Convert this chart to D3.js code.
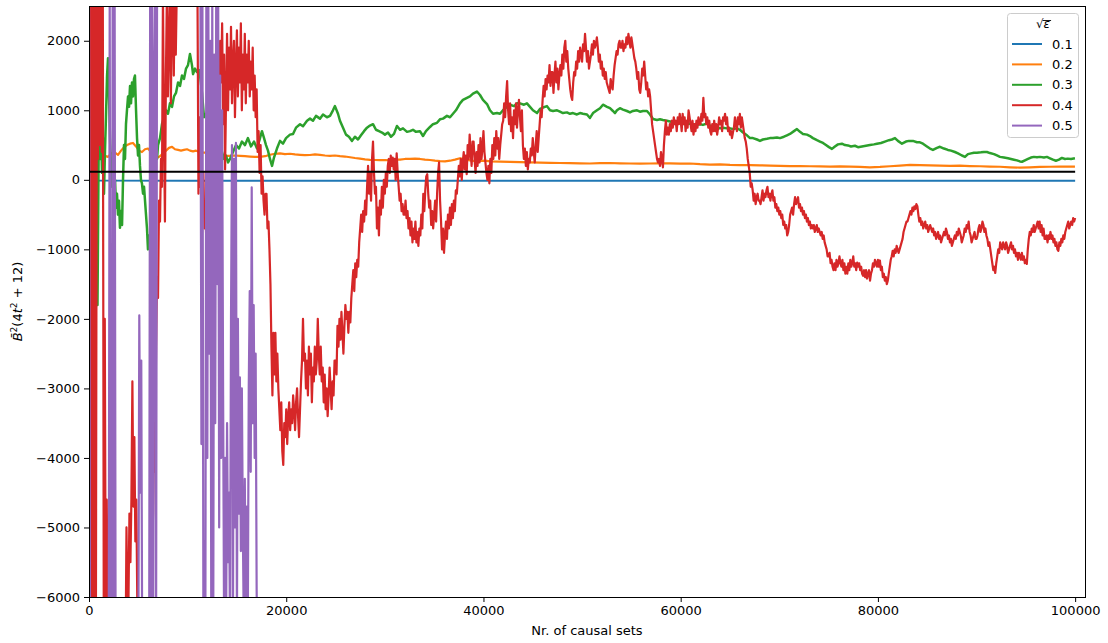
<!DOCTYPE html>
<html>
<head>
<meta charset="utf-8">
<script src="https://cdn.jsdelivr.net/npm/d3@7"></script>
<style>
  body { margin: 0; background: #fff; }
  text { font-family: "DejaVu Sans", sans-serif; fill: #000; }
</style>
</head>
<body>
<svg id="chart" width="1108" height="643"></svg>
<script>
// ---- data -------------------------------------------------------------
const xTicks = [0, 20000, 40000, 60000, 80000, 100000];
const yTicks = [-6000, -5000, -4000, -3000, -2000, -1000, 0, 1000, 2000];
const seriesLabels = ["0.1", "0.2", "0.3", "0.4", "0.5"];
const legendTitle = "\u221A\u03B5";

// horizontal reference level
const refLevel = 115;

// sqrt(eps) = 0.1 : [causal sets, value]
const eps01 = [[0, -5], [900, -10], [10000, -12], [30000, -14], [50000, -15],
  [70000, -15], [90000, -15], [100000, -15]];

// sqrt(eps) = 0.2 : [causal sets, value]
const eps02 = [[200, 900], [410, 420], [610, 500], [910, 570], [1120, 430], [1320, 350],
  [1620, 345], [1930, 330], [2230, 380], [2640, 390], [2940, 360], [3250, 420], [3550, 470],
  [3850, 500], [4160, 520], [4460, 530], [4770, 480], [5070, 420], [5370, 400], [5680, 440],
  [5980, 450], [6290, 400], [6590, 340], [6900, 315], [7200, 340], [7500, 380], [7810, 420],
  [8110, 460], [8420, 475], [8720, 440], [9030, 430], [9330, 420], [9630, 430], [9940, 440],
  [10240, 420], [10550, 410], [10850, 420], [11150, 400], [11460, 390], [11860, 390],
  [12270, 380], [12780, 370], [13280, 350], [13790, 345], [14300, 345], [14800, 350],
  [15310, 345], [15820, 340], [16330, 335], [16830, 330], [17340, 330], [17850, 340],
  [18350, 360], [18860, 375], [19370, 380], [19870, 370], [20380, 375], [20890, 365],
  [21400, 360], [21900, 355], [22410, 357], [22920, 365], [23420, 360], [23930, 350],
  [24440, 345], [24940, 350], [25450, 340], [25960, 335], [26470, 325], [26970, 314],
  [27480, 305], [27990, 295], [28490, 288], [29000, 285], [29510, 282], [30010, 285],
  [30520, 280], [31030, 290], [31540, 290], [32040, 300], [32550, 300], [33060, 305],
  [33560, 300], [34070, 290], [34580, 285], [35080, 275], [35590, 268], [36100, 265],
  [36610, 275], [37110, 290], [37620, 310], [38130, 295], [38630, 280], [39140, 270],
  [39650, 272], [40150, 275], [40660, 265], [41680, 262], [42690, 258], [43700, 255],
  [44720, 250], [45730, 248], [46750, 245], [47760, 242], [48770, 240], [49790, 238],
  [50800, 235], [51820, 240], [52830, 242], [53840, 238], [54860, 235], [55870, 232],
  [56890, 235], [57900, 238], [58910, 236], [59930, 232], [60940, 235], [61960, 225],
  [62970, 220], [63980, 222], [65000, 214], [66010, 210], [67030, 212], [68040, 208],
  [69050, 205], [70070, 200], [71080, 198], [72100, 197], [73110, 195], [74120, 193],
  [75140, 190], [76150, 192], [77170, 190], [78180, 185], [79190, 180], [80210, 185],
  [81220, 195], [82240, 205], [83250, 215], [84260, 212], [85280, 208], [86290, 205],
  [87310, 200], [88320, 203], [89330, 198], [90350, 195], [91360, 190], [92380, 188],
  [93390, 180], [94400, 175], [95420, 180], [96430, 185], [97450, 188], [98460, 190],
  [99980, 190]];

// sqrt(eps) = 0.3 : [causal sets, value]
const eps03 = [[100, 2700], [250, -3000], [410, 2700], [560, -800], [710, 2700], [860, -1800],
  [1010, 1000], [1120, 300], [1220, 700], [1320, 100], [1420, 600], [1520, -200], [1620, 400],
  [1720, 900], [1830, 1500], [1930, 1750], [2030, 1200], [2130, 600], [2230, 200], [2330, -100],
  [2430, 300], [2540, -300], [2640, 0], [2740, -400], [2840, -200], [2940, -500], [3040, -300],
  [3140, -690], [3250, -450], [3350, -650], [3450, 0], [3550, 500], [3650, 300], [3750, 800],
  [3850, 1000], [3960, 1200], [4060, 1050], [4160, 1350], [4260, 1100], [4360, 1400],
  [4460, 1200], [4560, 1450], [4660, 1500], [4770, 1000], [4870, 600], [4970, 350], [5070, 500],
  [5170, 200], [5270, 0], [5370, -50], [5480, -200], [5580, -100], [5680, -300], [5780, -500],
  [5880, -700], [5980, -1000], [6080, -800], [6190, -950], [6290, -600], [6390, -700],
  [6490, -300], [6590, 0], [6690, 200], [6790, 400], [6900, 300], [7000, 500], [7200, 600],
  [7400, 800], [7610, 900], [7810, 1000], [8010, 950], [8210, 1100], [8420, 1050], [8620, 1200],
  [8820, 1250], [9030, 1400], [9230, 1350], [9430, 1500], [9630, 1450], [9840, 1600],
  [10040, 1650], [10240, 1810], [10440, 1650], [10550, 1520], [10750, 1600], [10950, 1550],
  [11150, 1580], [11260, 1500], [11460, 1250], [11660, 900], [11860, 950], [12070, 850],
  [12270, 1000], [12470, 900], [12680, 1050], [12880, 900], [13080, 650], [13280, 450],
  [13490, 400], [13690, 300], [13890, 350], [14100, 250], [14300, 300], [14600, 400],
  [14910, 500], [15210, 450], [15510, 550], [15820, 500], [16120, 600], [16430, 480],
  [16730, 550], [17040, 450], [17340, 600], [17540, 700], [17750, 600], [17950, 500],
  [18150, 420], [18350, 300], [18560, 200], [18760, 320], [19060, 450], [19370, 560],
  [19670, 520], [19980, 600], [20380, 650], [20690, 660], [20990, 750], [21400, 800],
  [21700, 770], [22110, 850], [22410, 880], [22710, 850], [23020, 920], [23420, 880],
  [23730, 940], [24130, 900], [24440, 920], [24740, 1000], [24940, 1060], [25250, 950],
  [25450, 850], [25760, 750], [26060, 650], [26360, 620], [26670, 560], [26970, 620],
  [27280, 580], [27580, 640], [27890, 700], [28190, 750], [28490, 780], [28800, 800],
  [29100, 720], [29410, 700], [29710, 680], [30010, 650], [30320, 680], [30620, 620],
  [30930, 660], [31230, 775], [31540, 720], [31840, 740], [32250, 690], [32550, 700],
  [32850, 720], [33160, 690], [33560, 700], [33870, 630], [34170, 700], [34580, 760],
  [34880, 800], [35290, 820], [35590, 870], [35900, 880], [36300, 920], [36610, 900],
  [36910, 950], [37210, 1000], [37620, 1100], [37920, 1150], [38330, 1180], [38630, 1200],
  [38940, 1240], [39340, 1270], [39650, 1220], [39950, 1150], [40360, 1090], [40660, 1000],
  [40970, 950], [41370, 960], [41680, 950], [41980, 1000], [42390, 1050], [42690, 1080],
  [43100, 1060], [43400, 1100], [43700, 1100], [44110, 1080], [44410, 1100], [44720, 1050],
  [45020, 1000], [45430, 960], [45730, 1020], [46040, 1040], [46440, 1060], [46750, 1000],
  [47050, 990], [47460, 1000], [47760, 980], [48060, 960], [48470, 970], [48770, 950],
  [49080, 960], [49480, 940], [49790, 960], [50090, 950], [50500, 940], [50800, 890],
  [51110, 960], [51510, 1000], [51820, 1030], [52120, 1080], [52530, 1050], [52830, 1030],
  [53130, 990], [53340, 960], [53540, 1000], [53840, 1030], [54150, 1010], [54550, 990],
  [54860, 970], [55160, 990], [55570, 1000], [55870, 980], [56180, 990], [56580, 990],
  [56890, 940], [57190, 875], [57600, 860], [57900, 870], [58200, 860], [58610, 850],
  [58910, 840], [59220, 830], [59620, 820], [59930, 810], [60230, 820], [60640, 800],
  [60940, 810], [61250, 800], [61650, 790], [61960, 800], [62260, 790], [62670, 810],
  [62970, 780], [63270, 760], [63680, 740], [63980, 740], [64290, 750], [64690, 740],
  [65000, 740], [65300, 730], [65710, 740], [66010, 720], [66320, 680], [66720, 640],
  [67030, 600], [67330, 600], [67740, 580], [68040, 560], [68340, 580], [68750, 590],
  [69050, 600], [69360, 600], [69760, 610], [70070, 600], [70470, 620], [70780, 640],
  [71080, 660], [71490, 700], [71790, 730], [72100, 690], [72400, 660], [72810, 650],
  [73110, 630], [73410, 600], [73820, 570], [74120, 550], [74430, 530], [74730, 500],
  [75040, 470], [75340, 445], [75640, 480], [75950, 510], [76350, 520], [76660, 500],
  [76960, 495], [77270, 480], [77670, 490], [77980, 470], [78380, 480], [78790, 490],
  [79190, 500], [79600, 510], [79900, 520], [80310, 530], [80710, 550], [81120, 570],
  [81420, 580], [81730, 600], [82030, 560], [82440, 520], [82840, 550], [83150, 560],
  [83550, 560], [83960, 540], [84260, 540], [84570, 520], [84970, 480], [85280, 450],
  [85580, 430], [85990, 460], [86290, 475], [86700, 450], [87100, 430], [87410, 420],
  [87810, 400], [88120, 380], [88520, 350], [88830, 330], [89130, 370], [89440, 380],
  [89740, 390], [90040, 390], [90450, 395], [90750, 400], [91060, 400], [91360, 385],
  [91770, 370], [92070, 350], [92380, 330], [92780, 320], [93190, 310], [93490, 300],
  [93800, 290], [94100, 280], [94400, 265], [94610, 260], [94910, 280], [95220, 300],
  [95520, 320], [95820, 330], [96130, 325], [96430, 330], [96840, 320], [97140, 330],
  [97450, 310], [97750, 290], [98050, 275], [98360, 290], [98660, 315], [98970, 300],
  [99270, 305], [99580, 300], [99980, 310]];

// sqrt(eps) = 0.4 and 0.5 are stored as one value every sampleStep causal sets
const sampleStep = 100;

const eps04 = [
  2700, -6500, 2700, -6500, 2700, -6500, 2700, -6500, 2700, 300,
  2700, 500, 2700, 400, 2700, -6500, -2000, -6500, -4600, -6500,
  -7000, -7000, -7000, -7000, -7000, -7000, -7000, -7000, -7000, -7000,
  -7000, -7000, -7000, -7000, -7000, -7000, -7000, -7000, -5000, -6100,
  -6100, -4800, -5500, -4600, -2900, -4700, -3700, -5200, -4600, -6100,
  -7000, -7000, -7000, -7000, -7000, -7000, -7000, -7000, -7000, -7000,
  -7000, -7000, -7000, -7000, -5300, -4800, -3500, -4200, -2400, -1400,
  -1700, -300, -600, 300, -100, 2700, 800, -600, 1500, 2700,
  1200, 2000, 2700, 1100, 2400, 2700, 1500, 2700, 1800, 2700,
  3000, 3000, 3000, 3000, 3000, 3000, 3000, 3000, 3000, 3000,
  3000, 3000, 3000, 3000, 3000, 3000, 3000, 3000, 3000, 2700,
  2700, -200, 900, -100, 300, -300, 100, -700, -400, -900,
  -600, -1000, -500, -800, -300, -600, 100, -200, 500, 300,
  1000, 1600, 1200, 2000, 1400, 2250, 800, 1800, 150, 1200,
  2100, 1000, 1900, 1300, 2200, 1100, 1700, 2000, 900, 1600,
  2150, 1200, 1900, 1400, 2250, 1000, 1800, 1300, 2100, 1100,
  1800, 1400, 2000, 1200, 1700, 1300, 1900, 1000, 1500, 900,
  1300, 400, 700, 100, 500, -200, 50, -300, -500, -200,
  -200, -700, -600, -1000, -1500, -2400, -3100, -2200, -2800, -2200,
  -2900, -2500, -3000, -3300, -3600, -3200, -3900, -4100, -3500, -3700,
  -3300, -3800, -3400, -3200, -3600, -3300, -3500, -3100, -3300, -3600,
  -3200, -3000, -3400, -3700, -3300, -2900, -2600, -2000, -2600, -2500,
  -3000, -2600, -3100, -2400, -2800, -2500, -3200, -2700, -2900, -2400,
  -2800, -2600, -2000, -2500, -2800, -2400, -2900, -2700, -3200, -2800,
  -3300, -3000, -3400, -3100, -2700, -3000, -3300, -2900, -3100, -2600,
  -2600, -2800, -2100, -2400, -2000, -2300, -1900, -2200, -2500, -2100,
  -1800, -2000, -1900, -2200, -1900, -2050, -1700, -1500, -1300, -1600,
  -1200, -1400, -1150, -1250, -900, -700, -500, -750, -450, -600,
  -300, -500, -100, 200, -200, 100, -300, 300, 550, 100,
  -200, -100, -700, -400, -800, -300, -500, -100, -400, 0,
  -200, 100, -100, 200, 300, 100, 350, 200, 320, 150,
  300, 0, 380, 100, -100, -300, -200, -450, -350, -500,
  -500, -300, -550, -450, -700, -550, -800, -600, -900, -700,
  -850, -600, -900, -750, -950, -700, -800, -500, -700, -200,
  -450, -150, 50, 80, -200, -400, -300, -650, -450, -700,
  -500, -300, -600, -200, 100, 250, -300, -600, -1000, -700,
  -1050, -800, -600, -850, -500, -700, -400, -650, -350, -550,
  -300, -450, -150, -200, 0, 200, 50, 300, 0, 250,
  400, 150, 350, 80, 500, 300, 650, 400, 200, 550,
  550, 300, 100, 400, 200, 500, 250, 600, 300, 450,
  700, 400, 250, 100, 0, 200, -50, 300, 100, 500,
  300, 600, 350, 700, 450, 600, 300, 500, 650, 800,
  850, 1100, 900, 1200, 1420, 1000, 800, 1100, 700, 900,
  600, 1000, 800, 1100, 750, 1000, 1150, 900, 700, 1000,
  500, 300, 450, 200, 400, 150, 300, 250, 450, 350,
  600, 400, 250, 500, 700, 400, 600, 800, 1000, 900,
  1150, 1350, 1200, 1450, 1300, 1500, 1400, 1650, 1350, 1550,
  1550, 1250, 1500, 1700, 1400, 1600, 1300, 1500, 1650, 1500,
  1800, 1600, 1900, 2000, 1700, 1850, 1600, 1450, 1300, 1200,
  1150, 1400, 1550, 1500, 1700, 1600, 1850, 1700, 1900, 1800,
  1700, 1950, 1850, 2100, 1900, 1700, 1850, 1600, 1700, 1800,
  1950, 1800, 2000, 1900, 1950, 2050, 1900, 1700, 1800, 1600,
  1700, 1500, 1600, 1450, 1550, 1400, 1350, 1300, 1250, 1450,
  1350, 1300, 1500, 1650, 1750, 1850, 1800, 1950, 2000, 1900,
  1900, 2000, 1850, 1950, 1900, 2050, 1950, 2100, 2000, 1900,
  2050, 1950, 1850, 1750, 1700, 1600, 1450, 1550, 1300, 1250,
  1400, 1600, 1500, 1700, 1500, 1300, 1400, 1200, 1300, 1200,
  1000, 800, 700, 600, 500, 400, 300, 250, 300, 200,
  400, 300, 180, 500, 700, 850, 650, 750, 650, 800,
  700, 850, 750, 900, 800, 850, 700, 900, 800, 950,
  850, 700, 950, 800, 900, 700, 850, 750, 1000, 900,
  800, 700, 850, 650, 800, 700, 850, 750, 900, 800,
  800, 950, 850, 1180, 900, 950, 800, 900, 750, 850,
  700, 650, 800, 700, 850, 700, 800, 650, 750, 900,
  800, 850, 700, 900, 850, 950, 800, 900, 700, 750,
  650, 700, 600, 680, 750, 900, 800, 700, 900, 800,
  950, 750, 900, 800, 700, 600, 550, 450, 300, 200,
  100, -100, -50, -150, -300, -200, -350, -250, -200, -300,
  -300, -350, -250, -150, -300, -200, -250, -150, -100, -250,
  -200, -300, -200, -150, -300, -250, -400, -350, -450, -400,
  -500, -450, -550, -500, -650, -600, -700, -650, -800, -750,
  -650, -500, -450, -400, -500, -350, -250, -350, -300, -250,
  -400, -350, -450, -400, -500, -450, -550, -500, -600, -550,
  -650, -600, -700, -650, -700, -650, -750, -700, -650, -750,
  -700, -750, -800, -750, -850, -800, -900, -950, -1000, -1100,
  -1100, -1050, -1200, -1150, -1250, -1300, -1200, -1300, -1150, -1250,
  -1200, -1100, -1200, -1250, -1150, -1300, -1200, -1350, -1250, -1350,
  -1200, -1300, -1150, -1250, -1200, -1100, -1250, -1200, -1300, -1190,
  -1250, -1200, -1300, -1250, -1350, -1380, -1300, -1400, -1300, -1420,
  -1350, -1300, -1450, -1350, -1300, -1200, -1250, -1150, -1200, -1250,
  -1150, -1250, -1160, -1300, -1250, -1400, -1350, -1450, -1400, -1500,
  -1450, -1350, -1250, -1150, -1100, -1020, -1100, -1000, -1050, -950,
  -1000, -1050, -1000, -950, -900, -850, -750, -700, -650, -600,
  -600, -550, -500, -450, -500, -400, -450, -380, -420, -350,
  -380, -500, -600, -550, -650, -600, -700, -650, -600, -700,
  -650, -750, -700, -650, -700, -750, -700, -800, -750, -850,
  -800, -750, -850, -800, -900, -850, -800, -750, -800, -700,
  -750, -850, -800, -900, -850, -950, -900, -850, -800, -850,
  -750, -800, -700, -750, -800, -900, -850, -800, -700, -750,
  -650, -700, -600, -750, -800, -900, -850, -800, -750, -850,
  -850, -800, -700, -650, -750, -700, -600, -650, -750, -700,
  -800, -850, -950, -900, -1000, -1100, -1200, -1300, -1250, -1340,
  -1200, -1100, -1000, -1050, -900, -950, -1000, -900, -950, -1000,
  -900, -950, -1050, -1000, -950, -900, -1000, -950, -1050, -1000,
  -1100, -1050, -1150, -1050, -1100, -1150, -1050, -1150, -1100, -1200,
  -1150, -1210, -1000, -850, -750, -800, -700, -750, -650, -750,
  -700, -650, -600, -700, -600, -750, -650, -800, -700, -850,
  -850, -800, -900, -800, -850, -750, -850, -800, -900, -850,
  -950, -900, -1000, -1020, -900, -950, -850, -900, -800, -850,
  -750, -700, -650, -600, -700, -650, -600, -650, -550, -600,
  -550];

const eps05 = [
  2700, -6500, -7000, -7000, -7000, -7000, -7000, -7000, -7000, -7000,
  -7000, -7000, -7000, -7000, -7000, -7000, -7000, -7000, -7000, -7000,
  -7000, 2700, -7000, -7000, 2700, -7000, 2700, -7000, -7000, -7000,
  -7000, -7000, -7000, -7000, -7000, -7000, -7000, -7000, -7000, -7000,
  -7000, -7000, -7000, -7000, -7000, -7000, -7000, -7000, -7000, -7000,
  -7000, -1950, -4500, -2600, -7000, -7000, -7000, -7000, -7000, -7000,
  -7000, -7000, 2700, -7000, 2700, -6500, 1400, 2700, -7000, 2700,
  3000, 3000, 3000, 3000, 3000, 3000, 3000, 3000, 3000, 3000,
  3000, 3000, 3000, 3000, 3000, 3000, 3000, 3000, 3000, 3000,
  3000, 3000, 3000, 3000, 3000, 3000, 3000, 3000, 3000, 3000,
  3000, 3000, 3000, 3000, 3000, 3000, 3000, 3000, 3000, 3000,
  3000, 3000, 3000, 2700, -3800, 2700, -6500, -5200, -6500, 2700,
  -4000, 2700, -2500, 2000, -6500, 2700, -6500, 1800, -3500, 2700,
  -1500, 2700, -5000, 1500, -4000, 1000, -3100, -6500, -4000, -6500,
  -3500, -5500, -4500, -6500, -2000, 500, -6500, 300, -5000, 530,
  -6500, -2000, -4800, -2840, -5340, -3000, -5000, -6500, -4300, -6500,
  -4700, -6500, -3000, -1600, -4200, -110, -3500, -1800, -4000, -2500,
  -5900, -7000];

// ---- layout -----------------------------------------------------------
const svg = d3.select("#chart");
const plot = { left: 89, top: 6, right: 1085, bottom: 597 };

const x = d3.scaleLinear().domain([0, 101000]).range([plot.left, plot.right]);
const y = d3.scaleLinear().domain([-6000, 2500]).range([plot.bottom, plot.top]);

const colors = ["#1f77b4", "#ff7f0e", "#2ca02c", "#d62728", "#9467bd"];
const widths = [2, 2.2, 2.5, 2.2, 2.2];
const toPairs = vals => vals.map((v, i) => [i * sampleStep, v]);
const seriesData = [eps01, eps02, eps03, toPairs(eps04), toPairs(eps05)];

svg.append("rect").attr("width", 1108).attr("height", 643).attr("fill", "#fff");

svg.append("clipPath").attr("id", "plot-clip")
  .append("rect")
  .attr("x", plot.left).attr("y", plot.top)
  .attr("width", plot.right - plot.left).attr("height", plot.bottom - plot.top);

const line = d3.line().x(d => x(d[0])).y(d => y(d[1]));

const lines = svg.append("g").attr("clip-path", "url(#plot-clip)");
seriesData.forEach((pts, i) => {
  lines.append("path")
    .datum(pts)
    .attr("d", line)
    .attr("fill", "none")
    .attr("stroke", colors[i])
    .attr("stroke-width", widths[i])
    .attr("stroke-linejoin", "round");
});
lines.append("path")
  .datum([[0, refLevel], [100000, refLevel]])
  .attr("d", line)
  .attr("fill", "none")
  .attr("stroke", "#000")
  .attr("stroke-width", 2);

// ---- axes -------------------------------------------------------------
const minus = d => (d < 0 ? "\u2212" + Math.abs(d) : String(d));

const xAxis = svg.append("g")
  .attr("transform", `translate(0,${plot.bottom})`)
  .call(d3.axisBottom(x).tickValues(xTicks).tickFormat(minus).tickSize(5).tickPadding(4));
const yAxis = svg.append("g")
  .attr("transform", `translate(${plot.left},0)`)
  .call(d3.axisLeft(y).tickValues(yTicks).tickFormat(minus).tickSize(5).tickPadding(4));

[xAxis, yAxis].forEach(g => {
  g.select(".domain").remove();
  g.selectAll(".tick line").attr("stroke", "#000").attr("stroke-width", 1);
  g.selectAll(".tick text")
    .attr("fill", "#000")
    .style("font-family", "'DejaVu Sans', sans-serif")
    .style("font-size", "13px");
});

// frame
svg.append("rect")
  .attr("x", plot.left).attr("y", plot.top)
  .attr("width", plot.right - plot.left).attr("height", plot.bottom - plot.top)
  .attr("fill", "none").attr("stroke", "#000").attr("stroke-width", 1)
  .attr("shape-rendering", "crispEdges");

// axis titles
svg.append("text")
  .attr("x", (plot.left + plot.right) / 2).attr("y", 635)
  .attr("text-anchor", "middle").style("font-size", "13px")
  .text("Nr. of causal sets");

const yTitle = svg.append("text")
  .attr("transform", `translate(22,${(plot.top + plot.bottom) / 2}) rotate(-90)`)
  .attr("text-anchor", "middle").style("font-size", "13px");
yTitle.append("tspan").style("font-style", "italic").text("B\u0304");
yTitle.append("tspan").attr("dy", -5).style("font-size", "9px").text("2");
yTitle.append("tspan").attr("dy", 5).text("(4");
yTitle.append("tspan").style("font-style", "italic").text("t");
yTitle.append("tspan").attr("dy", -5).style("font-size", "9px").text("2");
yTitle.append("tspan").attr("dy", 5).text(" + 12)");

// ---- legend -----------------------------------------------------------
const legend = svg.append("g").attr("transform", "translate(1007,13)");
legend.append("rect")
  .attr("x", 0.5).attr("y", 0.5).attr("width", 71).attr("height", 124)
  .attr("rx", 3).attr("fill", "#fff").attr("fill-opacity", 0.8)
  .attr("stroke", "#ccc").attr("stroke-width", 1);

const title = legend.append("text")
  .attr("x", 36).attr("y", 15)
  .attr("text-anchor", "middle").style("font-size", "12px");
title.append("tspan").text(legendTitle[0]);
title.append("tspan").style("font-style", "italic").text(legendTitle[1]);
const epsBox = title.node().getExtentOfChar(1);
legend.append("line")
  .attr("x1", epsBox.x - 1).attr("x2", epsBox.x + epsBox.width + 1)
  .attr("y1", 7.5).attr("y2", 7.5)
  .attr("stroke", "#000").attr("stroke-width", 0.9);

seriesLabels.forEach((lab, i) => {
  const yy = 31 + i * 20.4;
  legend.append("line")
    .attr("x1", 5).attr("x2", 35).attr("y1", yy).attr("y2", yy)
    .attr("stroke", colors[i]).attr("stroke-width", 2);
  legend.append("text")
    .attr("x", 45).attr("y", yy).attr("dy", "0.35em")
    .style("font-size", "13px").text(lab);
});
</script>
</body>
</html>
